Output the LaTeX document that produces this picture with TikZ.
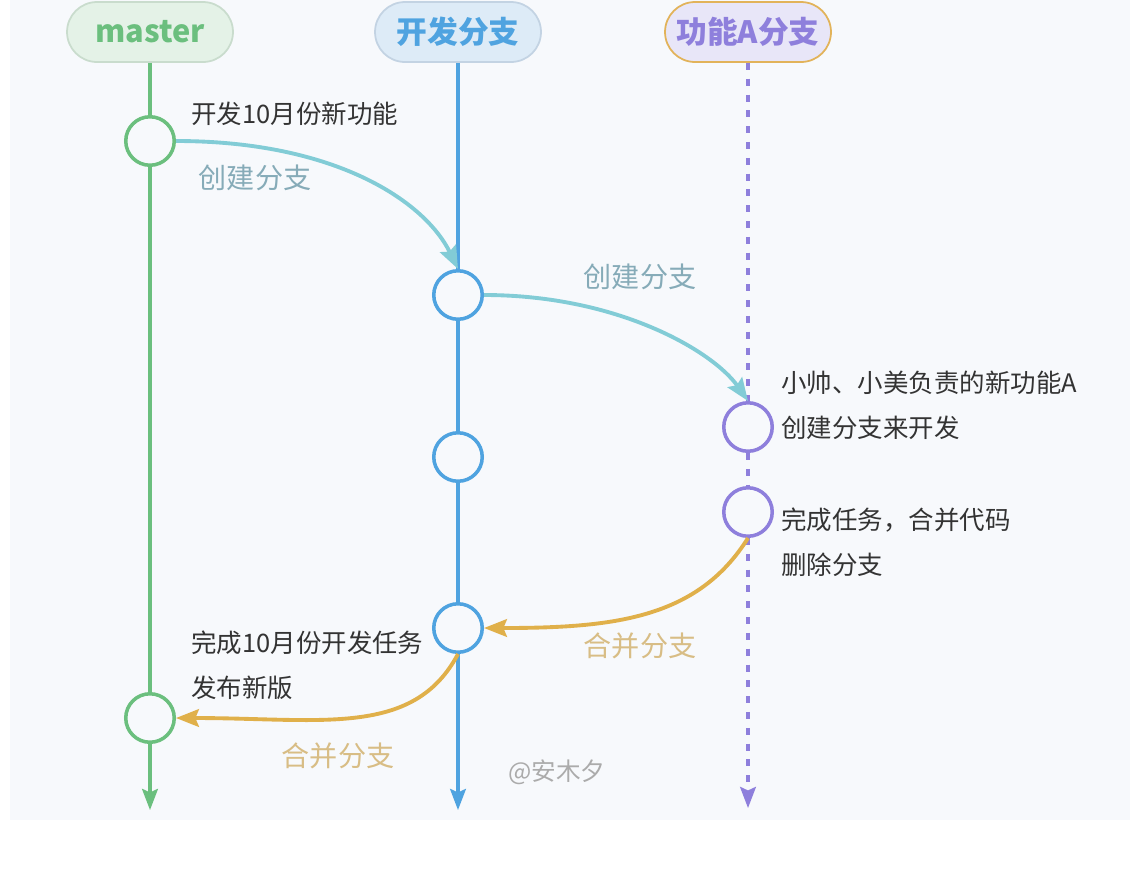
\documentclass[tikz,border=0pt]{standalone}
\usepackage{fontspec}
\setmainfont{Noto Sans CJK SC}
\usetikzlibrary{positioning,arrows.meta}
\definecolor{gitBg}{HTML}{F7F9FC}
\definecolor{masterLine}{HTML}{6BBF7E}
\definecolor{masterFill}{HTML}{E4F2E7}
\definecolor{masterEdge}{HTML}{C9DCCD}
\definecolor{devLine}{HTML}{4FA3E0}
\definecolor{devFill}{HTML}{DDEBF7}
\definecolor{devEdge}{HTML}{C3D3E3}
\definecolor{featLine}{HTML}{8E7FDC}
\definecolor{featFill}{HTML}{E8E6F8}
\definecolor{featEdge}{HTML}{E2B35A}
\definecolor{createLine}{HTML}{82CCD6}
\definecolor{createText}{HTML}{86ABB8}
\definecolor{mergeLine}{HTML}{E0B04A}
\definecolor{mergeText}{HTML}{D8BD85}
\definecolor{noteText}{HTML}{333333}
\definecolor{markText}{HTML}{ABABAB}

\tikzset{
  headpill/.style={rounded corners=0.6cm, minimum width=3.32cm,
    minimum height=1.2cm, line width=1pt, inner sep=0pt,
    font=\fontsize{17.5}{20}\selectfont\bfseries},
  commit/.style={circle, minimum size=0.97cm, inner sep=0pt,
    line width=2pt, fill=gitBg},
  lane/.style={line width=1.8pt, -{Stealth[length=12pt,width=9pt,inset=2pt]}},
  flow/.style={line width=2.2pt, -{Stealth[length=13pt,width=10pt,inset=2pt]}},
  note/.style={anchor=west, align=left, text=noteText, inner sep=0pt,
    font=\fontsize{14.5}{25.5}\selectfont},
  flowlab/.style={inner sep=0pt, font=\fontsize{16}{19}\selectfont}
}

\begin{document}
\begin{tikzpicture}[x=0.02cm, y=-0.02cm]
\useasboundingbox (0,0) rectangle (1142,887);
\fill[gitBg] (10,0) rectangle (1130,820);

%% branch heads
\node[headpill, draw=masterEdge, fill=masterFill, text=masterLine]
  (masterHead) at (150,32) {master};
\node[headpill, draw=devEdge, fill=devFill, text=devLine]
  (devHead) at (458,32) {开发分支};
\node[headpill, draw=featEdge, fill=featFill, text=featLine]
  (featHead) at (748,32) {功能A分支};

%% commits
\node[commit, draw=masterLine] (m1) at (150,141) {};
\node[commit, draw=masterLine] (m2) at (150,718) {};
\node[commit, draw=devLine] (d1) at (458,295) {};
\node[commit, draw=devLine] (d2) at (458,457) {};
\node[commit, draw=devLine] (d3) at (458,628) {};
\node[commit, draw=featLine] (f1) at (748,427) {};
\node[commit, draw=featLine] (f2) at (748,512) {};

\coordinate (mEnd) at (150,810);
\coordinate (dEnd) at (458,810);
\coordinate (fEnd) at (748,808);

%% lanes
\draw[lane, masterLine] (masterHead) -- (m1) -- (m2) -- (mEnd);
\draw[lane, devLine] (devHead) -- (d1) -- (d2) -- (d3) -- (dEnd);
\draw[lane, featLine, dash pattern=on 4pt off 5pt] (featHead) -- (f1) -- (f2) -- (fEnd);

%% branch / merge arrows
\draw[flow, createLine] (m1.east) to[out=0, in=116, out distance=3.2cm, in distance=1.5cm] (d1.north);
\draw[flow, createLine] (d1.east) to[out=0, in=125, out distance=2.7cm, in distance=1.2cm] (f1.north);
\draw[flow, mergeLine] (f2.south) to[out=-122, in=0, out distance=1.9cm, in distance=2.6cm] (d3.east);
\draw[flow, mergeLine] (d3.south) to[out=-118, in=0, out distance=1.9cm, in distance=2.9cm] (m2.east);

\node[flowlab, text=createText] (create1) at (255,178) {创建分支};
\node[flowlab, text=createText] (create2) at (640,277) {创建分支};
\node[flowlab, text=mergeText] (merge1) at (640,646) {合并分支};
\node[flowlab, text=mergeText] (merge2) at (338,756) {合并分支};

%% notes
\node[note] (noteM1) at (191,114) {开发10月份新功能};
\node[note] (noteF1) at (781,405) {小帅、小美负责的新功能A\\创建分支来开发};
\node[note] (noteF2) at (781,542) {完成任务，合并代码\\删除分支};
\node[note] (noteM2) at (191,665) {完成10月份开发任务\\发布新版};

\node[flowlab, text=markText, font=\fontsize{14}{17}\selectfont] (mark) at (557,772) {@安木夕};

\end{tikzpicture}
\end{document}
